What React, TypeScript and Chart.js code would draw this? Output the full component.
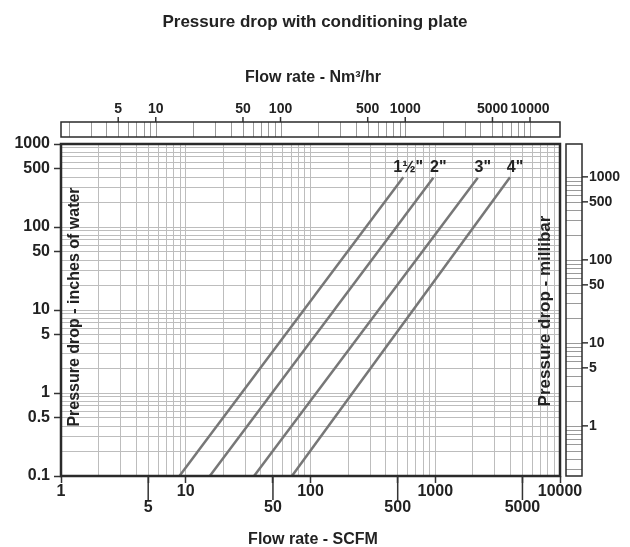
import React, { useEffect, useRef } from 'react';
import { Chart, registerables } from 'chart.js';

Chart.register(...registerables);

const FONT = "'Liberation Sans', Arial, Helvetica, sans-serif";

// ---- data ----
const seriesNames = ['1½"', '2"', '3"', '4"'];
const flow15 = [8.9, 554];
const dp15 = [0.1, 397];
const flow20 = [15.6, 965];
const dp20 = [0.1, 392];
const flow30 = [35.3, 2190];
const dp30 = [0.1, 392];
const flow40 = [71, 3975];
const dp40 = [0.1, 397];

// ---- ticks ----
const mantissas = [1, 2, 3, 4, 5, 6, 7, 8, 9];
const xDecades = [1, 10, 100, 1000];
const xMax = 10000;
const yDecades = [0.1, 1, 10, 100];
const yMax = 1000;
const xMajorLabels = [1, 10, 100, 1000, 10000];
const xMinorLabels = [5, 50, 500, 5000];
const yLabels = [1000, 500, 100, 50, 10, 5, 1, 0.5, 0.1];
const nmLabels = [5, 10, 50, 100, 500, 1000, 5000, 10000];
const nmDecades = [1, 10, 100, 1000, 10000];
const mbarLabels = [1000, 500, 100, 50, 10, 5, 1];
const mbarDecades = [0.1, 1, 10, 100, 1000];
const NM3_TO_SCFM = 0.575;
const MBAR_PER_INH2O = 2.4884;

const near = (a: number, b: number) => Math.abs(a - b) / b < 1e-6;
const inList = (v: number, list: number[]) => list.some((l) => near(v, l));

const xTicks: number[] = [];
xDecades.forEach((d) => mantissas.forEach((m) => xTicks.push(m * d)));
xTicks.push(xMax);
const yTicks: number[] = [];
yDecades.forEach((d) => mantissas.forEach((m) => yTicks.push(m * d)));
yTicks.push(yMax);

const decoPlugin = {
  id: 'deco',
  afterDraw(chart: any) {
    const { ctx, chartArea: a, scales } = chart;
    const xs = scales.x;
    const ys = scales.y;
    ctx.save();
    const line = (x1: number, y1: number, x2: number, y2: number) => {
      ctx.beginPath();
      ctx.moveTo(x1, y1);
      ctx.lineTo(x2, y2);
      ctx.stroke();
    };

    // plot frame
    ctx.strokeStyle = '#2a2a2a';
    ctx.lineWidth = 2.5;
    ctx.strokeRect(a.left, a.top, a.right - a.left, a.bottom - a.top);

    // long ticks at 5, 50, 500, 5000
    ctx.lineWidth = 1.5;
    ctx.strokeStyle = '#333';
    xMinorLabels.forEach((v) => {
      const px = xs.getPixelForValue(v);
      line(px, a.bottom, px, a.bottom + 24);
    });

    // top strip (Nm3/hr)
    const st = a.top - 22;
    const sb = a.top - 7;
    ctx.lineWidth = 1;
    ctx.strokeStyle = '#9a9a9a';
    nmDecades.forEach((d) =>
      mantissas.forEach((m) => {
        const v = m * d;
        const scfm = v * NM3_TO_SCFM;
        if (scfm < xs.min || scfm > xs.max) return;
        const px = Math.round(xs.getPixelForValue(scfm)) + 0.5;
        line(px, st, px, sb);
      })
    );
    ctx.strokeStyle = '#333';
    ctx.lineWidth = 1.5;
    ctx.font = `bold 14px ${FONT}`;
    ctx.fillStyle = '#222';
    ctx.textAlign = 'center';
    ctx.textBaseline = 'bottom';
    nmLabels.forEach((v) => {
      const px = xs.getPixelForValue(v * NM3_TO_SCFM);
      line(px, st - 5, px, st);
      ctx.fillText(String(v), px, st - 6);
    });
    ctx.strokeStyle = '#2a2a2a';
    ctx.lineWidth = 1.5;
    ctx.strokeRect(a.left, st, a.right - a.left, sb - st);

    // right strip (millibar)
    const sl = a.right + 6;
    const sr = a.right + 22;
    ctx.lineWidth = 1;
    ctx.strokeStyle = '#9a9a9a';
    mbarDecades.forEach((d) =>
      mantissas.forEach((m) => {
        const v = m * d;
        if (v > 1000.001) return;
        const inch = v / MBAR_PER_INH2O;
        if (inch < ys.min || inch > ys.max) return;
        const py = Math.round(ys.getPixelForValue(inch)) + 0.5;
        line(sl, py, sr, py);
      })
    );
    ctx.strokeStyle = '#333';
    ctx.lineWidth = 1.5;
    ctx.textAlign = 'left';
    ctx.textBaseline = 'middle';
    mbarLabels.forEach((v) => {
      const py = ys.getPixelForValue(v / MBAR_PER_INH2O);
      line(sr, py, sr + 6, py);
      ctx.fillText(String(v), sr + 7, py);
    });
    ctx.strokeStyle = '#2a2a2a';
    ctx.lineWidth = 1.5;
    ctx.strokeRect(sl, a.top, sr - sl, a.bottom - a.top);

    // series labels at line ends
    ctx.font = `bold 16px ${FONT}`;
    ctx.textAlign = 'center';
    ctx.textBaseline = 'middle';
    chart.data.datasets.forEach((ds: any, i: number) => {
      const meta = chart.getDatasetMeta(i);
      const pt = meta.data[meta.data.length - 1];
      ctx.fillText(ds.label, pt.x + 5, pt.y - 10);
    });

    // titles
    ctx.font = `bold 17px ${FONT}`;
    ctx.fillText('Pressure drop with conditioning plate', 315, 22);
    ctx.font = `bold 16px ${FONT}`;
    ctx.fillText('Flow rate - Nm³/hr', 313, 78);
    ctx.fillText('Flow rate - SCFM', 313, 540);

    ctx.translate(75, 307);
    ctx.rotate(-Math.PI / 2);
    ctx.fillText('Pressure drop - inches of water', 0, 0);
    ctx.rotate(Math.PI / 2);
    ctx.translate(-75, -307);

    ctx.font = `bold 17px ${FONT}`;
    ctx.translate(545, 311);
    ctx.rotate(-Math.PI / 2);
    ctx.fillText('Pressure drop - millibar', 0, 0);
    ctx.restore();
  },
};

export default function App() {
  const ref = useRef<HTMLCanvasElement | null>(null);
  useEffect(() => {
    if (!ref.current) return;
    const mk = (xs: number[], ys: number[]) => xs.map((x, i) => ({ x, y: ys[i] }));
    const lineStyle = {
      showLine: true,
      borderColor: '#777777',
      borderWidth: 2.5,
      pointRadius: 0,
      fill: false,
    };
    const chart = new Chart(ref.current, {
      type: 'scatter',
      data: {
        datasets: [
          { label: seriesNames[0], data: mk(flow15, dp15), ...lineStyle },
          { label: seriesNames[1], data: mk(flow20, dp20), ...lineStyle },
          { label: seriesNames[2], data: mk(flow30, dp30), ...lineStyle },
          { label: seriesNames[3], data: mk(flow40, dp40), ...lineStyle },
        ],
      },
      options: {
        animation: false,
        responsive: false,
        devicePixelRatio: 1,
        layout: { padding: { left: 0, right: 70, top: 144, bottom: 31 } },
        plugins: { legend: { display: false }, title: { display: false }, tooltip: { enabled: false } },
        scales: {
          x: {
            type: 'logarithmic',
            position: 'bottom',
            min: 1,
            max: xMax,
            afterBuildTicks: (s: any) => {
              s.ticks = xTicks.map((v) => ({ value: v }));
            },
            afterFit: (s: any) => {
              s.height = 40;
            },
            border: { display: false },
            grid: {
              color: '#bdbdbd',
              lineWidth: 1,
              drawTicks: true,
              tickLength: 7,
              tickWidth: 1.5,
              tickColor: (c: any) =>
                c.tick && (inList(c.tick.value, xMajorLabels) || inList(c.tick.value, xMinorLabels))
                  ? '#333'
                  : 'rgba(0,0,0,0)',
            },
            ticks: {
              autoSkip: false,
              maxRotation: 0,
              minRotation: 0,
              padding: 1,
              color: '#222',
              font: { family: FONT, size: 16, weight: 'bold', lineHeight: 1.0 },
              callback: (v: any) => {
                const n = Number(v);
                if (inList(n, xMajorLabels)) return String(xMajorLabels.find((l) => near(n, l)));
                if (inList(n, xMinorLabels)) return ['', String(xMinorLabels.find((l) => near(n, l)))];
                return '';
              },
            },
          },
          y: {
            type: 'logarithmic',
            position: 'left',
            min: 0.1,
            max: yMax,
            afterBuildTicks: (s: any) => {
              s.ticks = yTicks.map((v) => ({ value: v }));
            },
            afterFit: (s: any) => {
              s.width = 61;
            },
            border: { display: false },
            grid: {
              color: '#bdbdbd',
              lineWidth: 1,
              drawTicks: true,
              tickLength: 7,
              tickWidth: 1.5,
              tickColor: (c: any) => (c.tick && inList(c.tick.value, yLabels) ? '#333' : 'rgba(0,0,0,0)'),
            },
            ticks: {
              autoSkip: false,
              padding: 4,
              color: '#222',
              font: { family: FONT, size: 16, weight: 'bold' },
              callback: (v: any) => {
                const n = Number(v);
                const l = yLabels.find((q) => near(n, q));
                return l === undefined ? '' : String(l);
              },
            },
          },
        },
      } as any,
      plugins: [decoPlugin],
    });
    return () => chart.destroy();
  }, []);
  return (
    <div style={{ position: 'fixed', left: 0, top: 0, width: 630, height: 547, background: '#fff' }}>
      <canvas ref={ref} width={630} height={547} style={{ width: 630, height: 547 }} />
    </div>
  );
}
